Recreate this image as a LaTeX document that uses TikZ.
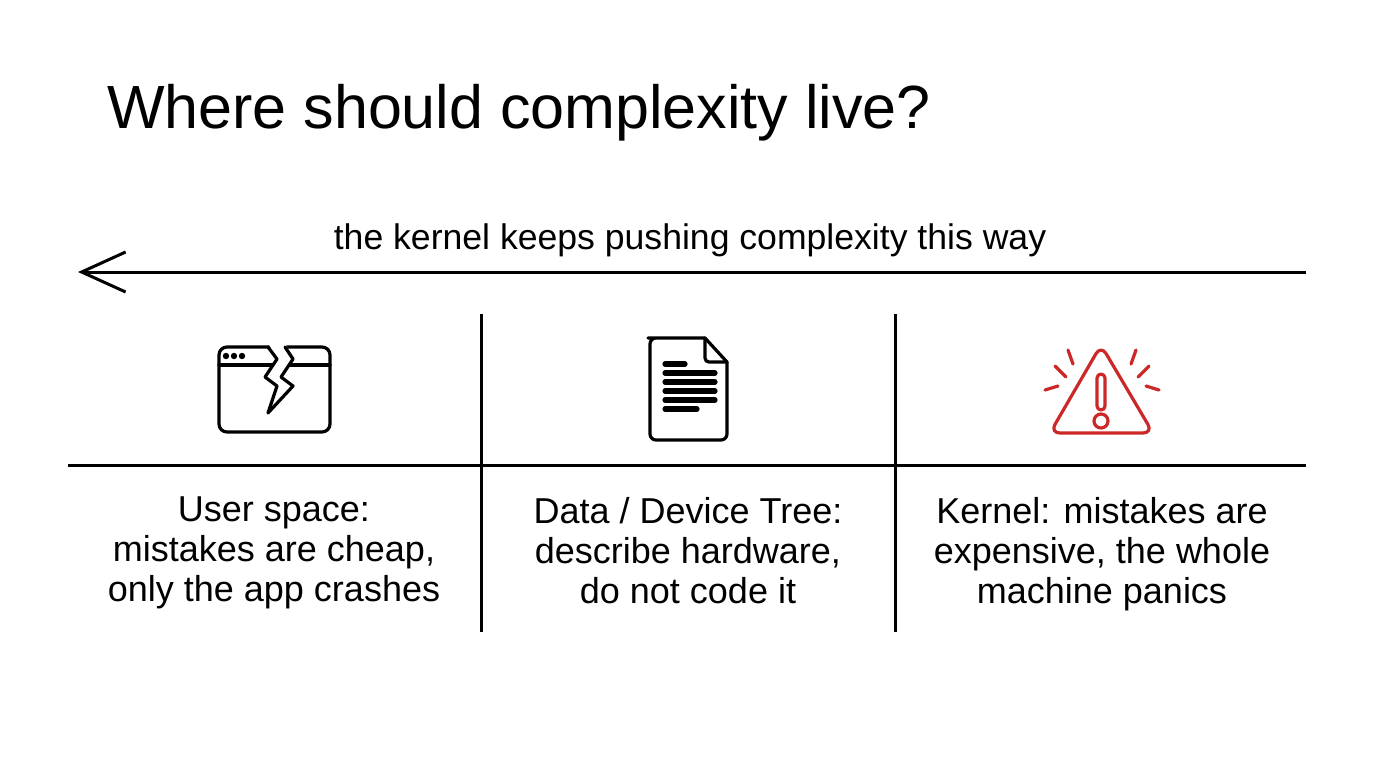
\documentclass[tikz,border=0pt]{standalone}
\usepackage{fontspec}
\setmainfont{Liberation Sans}
\usetikzlibrary{positioning,arrows.meta}
\usepackage{xcolor}
\definecolor{warnred}{RGB}{204,40,40}

\begin{document}
\begin{tikzpicture}[x=0.5pt,y=-0.5pt,>=Latex,
  rule/.style={line width=1.5pt},
  icon/.style={line width=1.6pt, line join=round, line cap=round},
  col/.style={align=center, anchor=north, font=\fontsize{18}{20}\selectfont}]
\useasboundingbox (0,0) rectangle (1376,768);

\node[anchor=west, font=\fontsize{30.5}{36}\selectfont] (title) at (100,113) {Where should complexity live?};

\coordinate (arrR) at (1306,272);
\coordinate (arrL) at (78,272);
\draw[rule, -{Straight Barb[length=22pt,width=20pt]}] (arrR) -- (arrL);
\node[font=\fontsize{17.8}{20}\selectfont] (push) at (690,240) {the kernel keeps pushing complexity this way};

\coordinate (hl) at (68,465);
\coordinate (hr) at (1306,465);
\draw[rule] (hl) -- (hr);
\foreach \x/\n in {481/a,895/b} {
  \coordinate (top\n) at (\x,314);
  \coordinate (bot\n) at (\x,632);
  \draw[rule] (top\n) -- (bot\n);
}

% browser window
\draw[icon, rounded corners=4pt] (219,347) rectangle (330,432);
\draw[icon] (219,365) -- (330,365);
\foreach \x in {226,234,242} \fill (\x,356) circle (1.6pt);
\fill[white] (268,343) -- (277,359) -- (265,377) -- (277,386) -- (268,417)
  -- (293,386) -- (281,377) -- (293,359) -- (285,343) -- cycle;
\draw[icon] (268,347) -- (277,359) -- (265,377) -- (277,386) -- (268,413)
  -- (293,386) -- (281,377) -- (293,359) -- (285,347);

% document
\draw[icon, rounded corners=3pt] (705,338) -- (654,338) -- (650,338) -- (650,440) -- (727,440) -- (727,362);
\draw[icon] (705,338) -- (727,362);
\draw[icon, rounded corners=2pt] (705,338) -- (705,362) -- (727,362);
\foreach \y/\w in {364/685,373/715,382/715,391/715,400/715,409/697}
  \draw[line width=2.6pt, line cap=round] (665,\y) -- (\w,\y);

% warning
\begin{scope}[warnred]
\draw[icon, rounded corners=5pt] (1101,345) -- (1153,433) -- (1050,433) -- cycle;
\draw[icon, rounded corners=2pt] (1097,374) rectangle (1105,410);
\draw[icon] (1101,421) circle (3.5pt);
\draw[icon] (1068,350) -- (1073,364);
\draw[icon] (1055,366) -- (1066,377);
\draw[icon] (1045,390) -- (1058,386);
\draw[icon] (1136,350) -- (1131,364);
\draw[icon] (1149,366) -- (1138,377);
\draw[icon] (1159,390) -- (1146,386);
\end{scope}

\node[col] (user) at (274,490) {User space:\\mistakes are cheap,\\only the app crashes};
\node[col] (data) at (688,490) {Data / Device Tree:\\describe hardware,\\do not code it};
\node[col] (kern) at (1102,490) {Kernel: mistakes are\\expensive, the whole\\machine panics};
\end{tikzpicture}
\end{document}
